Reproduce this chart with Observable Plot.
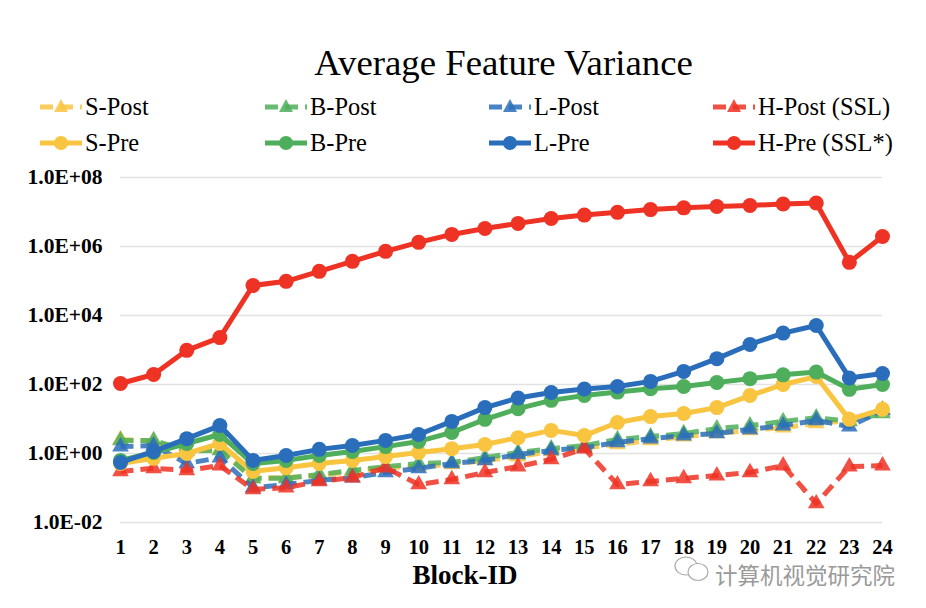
<!DOCTYPE html>
<html>
<head>
<meta charset="utf-8">
<script src="https://cdn.jsdelivr.net/npm/d3@7"></script>
<script src="https://cdn.jsdelivr.net/npm/@observablehq/plot@0.6"></script>
<style>
html,body{margin:0;padding:0;background:#fff;}
#page{position:relative;width:926px;height:608px;overflow:hidden;font-family:"Liberation Serif",serif;color:#000;}
#title{position:absolute;left:0;width:1007px;top:42px;text-align:center;font-size:36.8px;line-height:42px;}
.lg{position:absolute;display:flex;align-items:center;font-size:24.4px;line-height:26px;height:26px;white-space:nowrap;}
#chart{position:absolute;left:0;top:160px;}
#xlabel{position:absolute;left:0;width:930px;top:561px;text-align:center;font-size:27px;font-weight:bold;line-height:28px;}
#markicon{position:absolute;left:672px;top:555px;}
#mark{position:absolute;left:715px;top:564px;color:#9a9a9a;font-family:"Noto Sans CJK SC";font-size:22.5px;line-height:20px;height:20px;white-space:nowrap;}
#chart svg{overflow:visible;}
</style>
</head>
<body>
<div id="page">
<div id="title">Average Feature Variance</div>
<div id="legend"></div>
<div id="chart"></div>
<div id="xlabel">Block-ID</div>
<svg id="markicon" width="42" height="28" viewBox="0 0 42 28"><g fill="#fff" stroke="#aaa" stroke-width="1.2"><ellipse cx="14" cy="11" rx="11" ry="9"/><ellipse cx="26" cy="17" rx="10" ry="8.5"/></g></svg>
<div id="mark">计算机视觉研究院</div>
</div>
<script>
// Block IDs on the x axis
const blocks = d3.range(1, 25);
// y axis ticks
const yTicks = [1e-2, 1e0, 1e2, 1e4, 1e6, 1e8];
const yTickLabels = ["1.0E-02", "1.0E+00", "1.0E+02", "1.0E+04", "1.0E+06", "1.0E+08"];

// Series values, as log10 of the variance
const sPost = [.41,.35,.06,.12,-.72,-.70,-.64,-.52,-.41,-.38,-.32,-.20,-.09,.06,.17,.26,.38,.49,.58,.67,.75,.87,.96,1.28];
const bPost = [.38,.38,.09,.09,-.72,-.72,-.61,-.49,-.38,-.29,-.26,-.12,.03,.14,.23,.41,.49,.58,.72,.81,.93,1.04,.93,1.16];
const lPost = [.20,.23,-.29,-.12,-.99,-.90,-.78,-.70,-.55,-.43,-.29,-.20,-.03,.09,.17,.32,.43,.52,.58,.70,.81,.96,.78,1.25];
const hPost = [-.52,-.43,-.49,-.35,-1.04,-.99,-.81,-.70,-.41,-.90,-.75,-.55,-.38,-.17,.14,-.90,-.81,-.72,-.64,-.55,-.35,-1.45,-.38,-.35];
const sPre = [-.29,-.14,0,.29,-.52,-.41,-.29,-.20,-.09,.03,.14,.26,.46,.67,.52,.90,1.07,1.16,1.33,1.68,2.0,2.23,.99,1.28];
const bPre = [-.20,.03,.29,.55,-.29,-.20,-.06,.06,.20,.35,.61,.99,1.30,1.54,1.68,1.78,1.88,1.94,2.06,2.17,2.28,2.36,1.86,2.0];
const lPre = [-.26,.06,.43,.81,-.20,-.06,.12,.23,.38,.55,.93,1.33,1.61,1.77,1.87,1.94,2.09,2.38,2.75,3.16,3.49,3.71,2.19,2.32];
const hPre = [2.03,2.29,2.99,3.36,4.87,4.99,5.28,5.57,5.86,6.12,6.35,6.52,6.67,6.81,6.91,6.99,7.07,7.12,7.16,7.19,7.23,7.26,5.54,6.29];

const yellow = "#F9C440", green = "#4FAE5B", blue = "#2A6EBB", red = "#EE3224";

// Draw order: post series below pre series
const series = [
  {name:"S-Post", values:sPost, color:yellow, post:true},
  {name:"B-Post", values:bPost, color:green, post:true},
  {name:"L-Post", values:lPost, color:blue, post:true},
  {name:"H-Post (SSL)", values:hPost, color:red, post:true},
  {name:"S-Pre", values:sPre, color:yellow, post:false},
  {name:"B-Pre", values:bPre, color:green, post:false},
  {name:"L-Pre", values:lPre, color:blue, post:false},
  {name:"H-Pre (SSL*)", values:hPre, color:red, post:false}
];

const seriesMarks = series.flatMap(s => {
  const rows = blocks.map((b, i) => ({b, v: 10 ** s.values[i]}));
  return [
    Plot.line(rows, {x:"b", y:"v", stroke:s.color, strokeWidth:5, strokeOpacity:s.post?0.85:1,
      strokeDasharray:s.post?"13,7":null, strokeLinecap:"butt", strokeLinejoin:"round", curve:"linear"}),
    Plot.dot(rows, {x:"b", y:"v", fill:s.color, fillOpacity:s.post?0.85:1, stroke:"none",
      symbol:s.post?"triangle":"circle", r:s.post?6.2:7.5})
  ];
});

const chart = Plot.plot({
  width:926, height:448,
  marginLeft:120, marginRight:44, marginTop:17, marginBottom:86,
  style:{fontFamily:"'Liberation Serif',serif", background:"transparent", overflow:"visible"},
  x:{type:"linear", domain:[1,24]},
  y:{type:"log", domain:[1e-2,1e8]},
  marks:[
    Plot.gridY(yTicks, {stroke:"#e2e2e2", strokeWidth:1.5, strokeOpacity:1}),
    Plot.axisY(yTicks, {tickSize:0, tickPadding:18, label:null, fontSize:21.5, fontWeight:"bold", fill:"#000",
      tickFormat:v => yTickLabels[yTicks.indexOf(v)]}),
    Plot.axisX(blocks, {tickSize:0, tickPadding:17, label:null, fontSize:20.5, fontWeight:"bold", fill:"#000",
      tickFormat:d => String(d)}),
    ...seriesMarks
  ]
});
document.getElementById("chart").appendChild(chart);

// Legend
const legendCols = [85, 310, 534, 758];
const legendRows = [94, 130];
const legend = document.getElementById("legend");
series.forEach((s, i) => {
  const col = i % 4, row = i < 4 ? 0 : 1;
  const el = document.createElement("div");
  el.className = "lg";
  el.style.left = (legendCols[col] - 46) + "px";
  el.style.top = legendRows[row] + "px";
  const op = s.post ? 0.85 : 1;
  const mk = s.post
    ? `<path d="M22,5 L29,18 L15,18 Z" fill="${s.color}" fill-opacity="${op}"/>`
    : `<circle cx="22" cy="13" r="7" fill="${s.color}"/>`;
  const ln = s.post
    ? `<path d="M1,13 H43" stroke="${s.color}" stroke-opacity="${op}" stroke-width="5" stroke-dasharray="13,7"/>`
    : `<path d="M1,13 H43" stroke="${s.color}" stroke-width="5"/>`;
  el.innerHTML = `<svg width="46" height="26" viewBox="0 0 46 26">${ln}${mk}</svg><span>${s.name}</span>`;
  legend.appendChild(el);
});
</script>
</body>
</html>
